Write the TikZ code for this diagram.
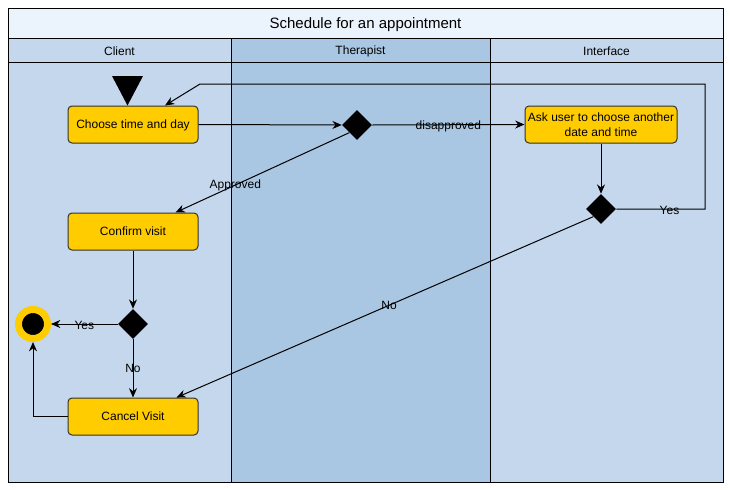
\documentclass[tikz,border=0pt]{standalone}
\usepackage{fontspec}
\setmainfont{Liberation Sans}
\usetikzlibrary{arrows.meta}
\usetikzlibrary{shapes.geometric}

\definecolor{titlefill}{RGB}{235,243,252}
\definecolor{lanelight}{RGB}{196,215,236}
\definecolor{lanedark}{RGB}{169,198,226}
\definecolor{actfill}{RGB}{255,204,0}
\definecolor{actline}{RGB}{50,50,50}

\begin{document}
\begin{tikzpicture}[x=0.75pt,y=-0.75pt,
    font=\fontsize{9}{11.25}\selectfont,
    activity/.style={draw=actline,line width=0.75pt,fill=actfill,rounded corners=3pt,
        minimum width=97.5pt,minimum height=27.75pt,align=center,inner sep=1pt,text depth=0pt},
    decision/.style={diamond,fill=black,inner sep=0pt,minimum size=22.5pt},
    flow/.style={-{Stealth[length=7pt,width=6pt]},line width=0.75pt},
    lbl/.style={inner sep=1pt}]

    % Fond et cadre
    \fill[white] (0,0) rectangle (730,489);
    \useasboundingbox (0,0) rectangle (730,489);

    % Couloirs
    \draw[line width=0.75pt,fill=titlefill] (8,8) rectangle (723,38);
    \draw[line width=0.75pt,fill=lanelight] (8,38) rectangle (231,482);
    \draw[line width=0.75pt,fill=lanedark] (231,38) rectangle (490,482);
    \draw[line width=0.75pt,fill=lanelight] (490,38) rectangle (723,482);
    \draw[line width=0.75pt] (8,62) -- (723,62);
    \node (title) at (365.5,24.5) {\fontsize{11.25}{13}\selectfont Schedule for an appointment};
    \node (client) at (119.5,51) {Client};
    \node (therapist) at (360.5,51) {Therapist};
    \node (interface) at (606.5,51) {Interface};

    % Depart
    \fill (112,76) -- (143,76) -- (127.5,105.5) -- cycle;

    % Activites
    \node[activity] (choose) at (133,124.5) {Choose time and day};
    \node[activity,minimum width=114pt] (ask) at (601,124.5) {Ask user to choose another\\date and time};
    \node[activity] (confirm) at (133,231.5) {Confirm visit};
    \node[activity] (cancel) at (133,416.5) {Cancel Visit};

    % Decisions
    \node[decision] (dOne) at (357,125) {};
    \node[decision] (dTwo) at (601,209) {};
    \node[decision] (dThree) at (133,324) {};

    % Fin
    \node[circle,fill=black,draw=actfill,line width=5.25pt,minimum size=21.75pt,inner sep=0pt] (end) at (33,324) {};

    % Retour vers le choix
    \coordinate (loopR) at (705,84);
    \coordinate (loopL) at (200,84);

    % Transitions
    \draw[flow] (choose.east) -- (dOne.west);
    \draw[flow] (dOne.east) -- (ask.west) node[lbl,midway,yshift=-1pt] {disapproved};
    \draw[flow] (dOne.south west) -- ([xshift=-17.25pt]confirm.north east)
        node[lbl,pos=0.656] {Approved};
    \draw[flow] (ask.south) -- (dTwo.north);
    \draw[flow] (dTwo.east) -| (loopR) node[lbl,pos=0.3,yshift=-1pt] {Yes}
        -- (loopL) -- ([xshift=24pt]choose.north);
    \draw[flow] (dTwo.south west) -- ([xshift=-16.5pt]cancel.north east)
        node[lbl,pos=0.49] {No};
    \draw[flow] (confirm.south) -- (dThree.north);
    \draw[flow] (dThree.west) -- (end.east) node[lbl,midway,yshift=-1pt] {Yes};
    \draw[flow] (dThree.south) -- (cancel.north) node[lbl,midway] {No};
    \draw[flow] (cancel.west) -| (end.south);
\end{tikzpicture}
\end{document}
